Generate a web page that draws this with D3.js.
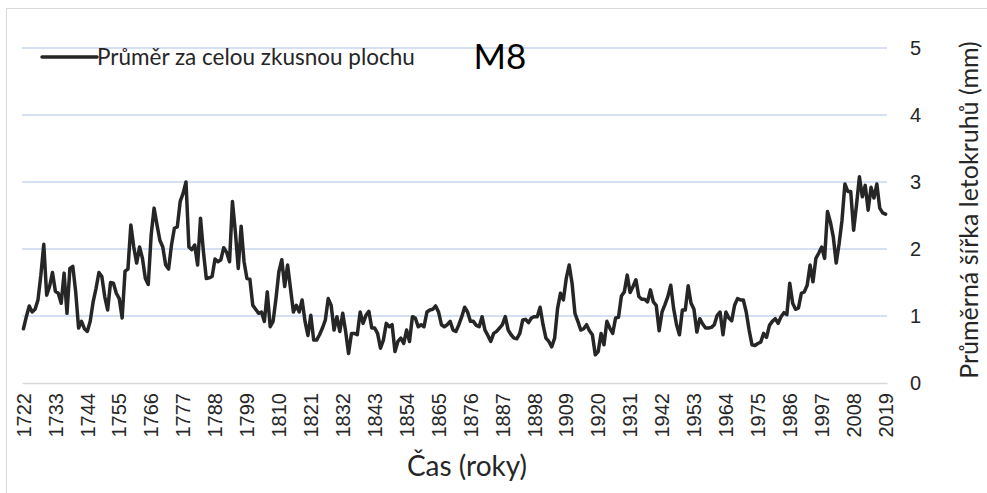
<!DOCTYPE html>
<html>
<head>
<meta charset="utf-8">
<script src="https://cdn.jsdelivr.net/npm/d3@7"></script>
<style>
  body { margin: 0; background: #fff; }
  svg { display: block; font-family: Lato, 'Open Sans', sans-serif; }
</style>
</head>
<body>
<div id="chart"></div>
<script>
// data: mean ring width (mm) per year, 1722-2019
const firstYear = 1722;
const ringWidth = [
  0.81, 0.99, 1.15, 1.06, 1.10, 1.24, 1.61, 2.07, 1.31, 1.44,
  1.65, 1.37, 1.34, 1.19, 1.64, 1.04, 1.71, 1.74, 1.36, 0.82,
  0.92, 0.81, 0.77, 0.92, 1.21, 1.41, 1.65, 1.59, 1.29, 1.09,
  1.50, 1.49, 1.34, 1.26, 0.97, 1.67, 1.70, 2.36, 2.03, 1.79,
  2.03, 1.86, 1.56, 1.47, 2.21, 2.61, 2.36, 2.13, 2.03, 1.76,
  1.70, 2.06, 2.31, 2.33, 2.71, 2.83, 3.00, 2.03, 1.99, 2.06,
  1.76, 2.46, 1.96, 1.56, 1.57, 1.59, 1.85, 1.81, 1.84, 2.02,
  1.95, 1.81, 2.71, 2.26, 1.71, 2.34, 1.81, 1.56, 1.55, 1.16,
  1.10, 1.04, 1.06, 0.92, 1.36, 0.84, 0.92, 1.26, 1.66, 1.84,
  1.44, 1.76, 1.41, 1.06, 1.16, 1.06, 1.24, 0.92, 0.71, 1.01,
  0.64, 0.64, 0.72, 0.82, 0.94, 1.26, 1.16, 0.79, 0.99, 0.77,
  1.04, 0.77, 0.44, 0.74, 0.74, 0.72, 1.06, 0.89, 1.01, 1.07,
  0.82, 0.82, 0.74, 0.52, 0.64, 0.89, 0.84, 0.87, 0.47, 0.62,
  0.67, 0.59, 0.79, 0.62, 0.99, 0.97, 0.84, 0.87, 0.84, 1.06,
  1.09, 1.10, 1.15, 1.06, 0.87, 0.84, 0.87, 0.92, 0.79, 0.77,
  0.87, 0.99, 1.13, 1.06, 0.92, 0.92, 0.86, 0.84, 0.99, 0.79,
  0.71, 0.62, 0.74, 0.77, 0.82, 0.87, 0.99, 0.79, 0.72, 0.67,
  0.66, 0.74, 0.94, 0.95, 0.90, 0.97, 0.99, 0.99, 1.13, 0.87,
  0.67, 0.62, 0.54, 0.67, 1.11, 1.34, 1.24, 1.56, 1.76, 1.49,
  1.04, 0.92, 0.79, 0.81, 0.87, 0.78, 0.72, 0.42, 0.47, 0.74,
  0.57, 0.92, 0.82, 0.74, 0.97, 0.98, 1.30, 1.36, 1.61, 1.35,
  1.44, 1.54, 1.29, 1.25, 1.25, 1.21, 1.39, 1.21, 1.16, 0.78,
  1.06, 1.17, 1.29, 1.46, 1.11, 0.87, 0.72, 1.09, 1.09, 1.45,
  1.19, 1.10, 0.76, 0.96, 0.88, 0.82, 0.82, 0.83, 0.87, 1.01,
  1.06, 0.72, 1.06, 0.97, 0.93, 1.16, 1.26, 1.24, 1.24, 1.06,
  0.79, 0.57, 0.56, 0.59, 0.61, 0.74, 0.68, 0.86, 0.92, 0.96,
  0.89, 0.99, 1.05, 1.02, 1.49, 1.19, 1.10, 1.12, 1.34, 1.36,
  1.46, 1.76, 1.51, 1.86, 1.94, 2.03, 1.86, 2.56, 2.40, 2.18,
  1.79, 2.08, 2.43, 2.97, 2.86, 2.86, 2.28, 2.66, 3.08, 2.78,
  2.95, 2.58, 2.92, 2.76, 2.97, 2.61, 2.54, 2.52
];
const years = ringWidth.map((d, i) => firstYear + i);
const tickYears = [1722, 1733, 1744, 1755, 1766, 1777, 1788, 1799, 1810, 1821,
  1832, 1843, 1854, 1865, 1876, 1887, 1898, 1909, 1920, 1931,
  1942, 1953, 1964, 1975, 1986, 1997, 2008, 2019];
const yTicks = [0, 1, 2, 3, 4, 5];
const seriesName = 'Průměr za celou zkusnou plochu';
const chartTitle = 'M8';
const xTitle = 'Čas (roky)';
const yTitle = 'Průměrná šířka letokruhů (mm)';

const svgWidth = 987;
const svgHeight = 493;
const plot = {left: 22, right: 887, top: 48, bottom: 383};

const svg = d3.select('#chart').append('svg')
    .attr('width', svgWidth)
    .attr('height', svgHeight);

// chart area border
svg.append('rect')
    .attr('x', 6.5).attr('y', 8.5)
    .attr('width', svgWidth).attr('height', svgHeight)
    .attr('fill', '#fff')
    .attr('stroke', '#d9d9d9');

const x = d3.scaleBand().domain(years).range([plot.left, plot.right]);
const cx = yr => x(yr) + x.bandwidth() / 2;
const y = d3.scaleLinear().domain([0, 5]).range([plot.bottom, plot.top]);

// gridlines
svg.append('g')
    .selectAll('line')
    .data(yTicks.filter(v => v > 0))
    .join('line')
    .attr('x1', plot.left).attr('x2', plot.right)
    .attr('y1', d => y(d)).attr('y2', d => y(d))
    .attr('stroke', '#c9d6ef')
    .attr('stroke-width', 1.5);

// x axis (category axis at 0)
const xAxis = svg.append('g')
    .attr('transform', `translate(0,${y(0)})`)
    .call(d3.axisBottom(x).tickValues(tickYears).tickSize(0));
xAxis.select('.domain').attr('stroke', '#d9d9d9').attr('stroke-width', 1.5);
xAxis.selectAll('text')
    .attr('transform', 'rotate(-90)')
    .attr('x', -10).attr('y', 0).attr('dy', '0.36em')
    .style('text-anchor', 'end')
    .attr('font-size', 20)
    .attr('fill', '#262626');

// y axis on the right
const yAxis = svg.append('g')
    .attr('transform', `translate(${plot.right},0)`)
    .call(d3.axisRight(y).tickValues(yTicks).tickFormat(d3.format('d')).tickSize(0).tickPadding(23));
yAxis.select('.domain').remove();
yAxis.selectAll('text')
    .attr('font-size', 20)
    .attr('fill', '#262626');

// series line
const line = d3.line()
    .x((d, i) => cx(years[i]))
    .y(d => y(d));
svg.append('path')
    .datum(ringWidth)
    .attr('d', line)
    .attr('fill', 'none')
    .attr('stroke', '#262626')
    .attr('stroke-width', 3.5)
    .attr('stroke-linejoin', 'round')
    .attr('stroke-linecap', 'round');

// legend
const legend = svg.append('g').attr('transform', 'translate(42,57)');
legend.append('line')
    .attr('x1', 0).attr('x2', 55).attr('y1', 0).attr('y2', 0)
    .attr('stroke', '#262626').attr('stroke-width', 3.5)
    .attr('stroke-linecap', 'round');
legend.append('text')
    .attr('x', 55).attr('dy', '0.35em')
    .attr('font-size', 22.5)
    .attr('fill', '#262626')
    .text(seriesName);

// chart title
svg.append('text')
    .attr('x', 500).attr('y', 57).attr('dy', '0.35em')
    .attr('text-anchor', 'middle')
    .attr('font-size', 35)
    .attr('fill', '#000')
    .text(chartTitle);

// axis titles
svg.append('text')
    .attr('x', 467).attr('y', 466).attr('dy', '0.35em')
    .attr('text-anchor', 'middle')
    .attr('font-size', 28)
    .attr('fill', '#262626')
    .text(xTitle);
svg.append('text')
    .attr('transform', 'translate(969,210) rotate(-90)')
    .attr('dy', '0.35em')
    .attr('text-anchor', 'middle')
    .attr('font-size', 25)
    .attr('fill', '#262626')
    .text(yTitle);
</script>
</body>
</html>
